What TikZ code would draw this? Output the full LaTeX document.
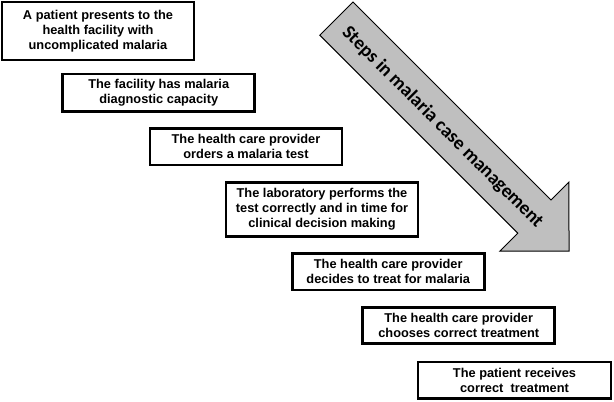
\documentclass[tikz,border=0pt]{standalone}
\usepackage{fontspec}
\setmainfont{Liberation Sans}
\newfontfamily\arrowfont{Carlito}
\begin{document}
\begin{tikzpicture}[x=1pt,y=1pt,
  stepbox/.style={draw=black, line width=2.8pt, fill=white, inner sep=0pt,
    align=center, minimum width=192pt,
    font=\bfseries\fontsize{12.8}{15}\selectfont},
  bigarrow/.style={draw=black, line width=1pt, fill=black!25, line join=miter}]
\useasboundingbox (0,0) rectangle (614,-402);
% big arrow
\begin{scope}[shift={(336.4,-18.6)}, rotate=-45]
  \draw[bigarrow] (0,23.5) -- (280,23.5) -- (280,48.8) -- (329,0)
        -- (280,-48.8) -- (280,-23.5) -- (0,-23.5) -- cycle;
  \node[rotate=-45, font=\arrowfont\bfseries\fontsize{19.2}{21}\selectfont]
        (arrowlabel) at (152,-2) {Steps in malaria case management};
\end{scope}
% boxes
\node[stepbox, minimum height=58pt] (b1) at (98,-31)
  {A patient presents to the\\health facility with\\uncomplicated malaria};
\node[stepbox, minimum height=37.5pt] (b2) at (158.75,-92.75)
  {The facility has malaria\\diagnostic capacity};
\node[stepbox, minimum height=36.5pt] (b3) at (246,-146.75)
  {The health care provider\\orders a malaria test};
\node[stepbox, minimum height=54pt] (b4) at (322,-209.5)
  {The laboratory performs the\\test correctly and in time for\\clinical decision making};
\node[stepbox, minimum height=36.5pt] (b5) at (388.25,-271.75)
  {The health care provider\\decides to treat for malaria};
\node[stepbox, minimum height=36.5pt] (b6) at (458.75,-325.5)
  {The health care provider\\chooses correct treatment};
\node[stepbox, minimum height=36.5pt, minimum width=193pt] (b7) at (514.5,-380.25)
  {The patient receives\\correct\ \ treatment};
\end{tikzpicture}
\end{document}
